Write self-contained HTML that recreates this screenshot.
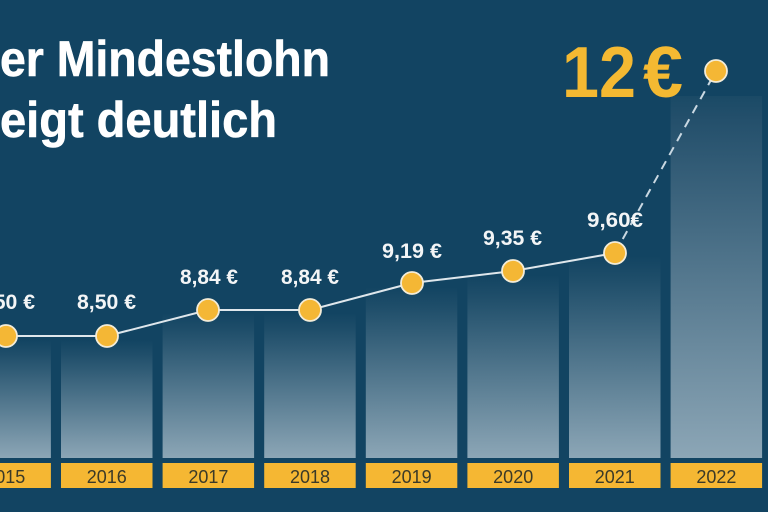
<!DOCTYPE html>
<html><head><meta charset="utf-8"><style>
html,body{margin:0;padding:0;background:#124462;}
svg{display:block;}
</style></head><body>
<svg width="768" height="512" viewBox="0 0 768 512" xmlns="http://www.w3.org/2000/svg">
<defs>
<linearGradient id="g" x1="0" y1="0" x2="0" y2="1">
<stop offset="0" stop-color="#124462"/>
<stop offset="0.12" stop-color="#1f4e6a"/>
<stop offset="1" stop-color="#8ca6b6"/>
</linearGradient>
<linearGradient id="g2" x1="0" y1="0" x2="0" y2="1">
<stop offset="0" stop-color="#1a4a66"/>
<stop offset="0.06" stop-color="#234f6b"/>
<stop offset="1" stop-color="#8ca6b6"/>
</linearGradient>
</defs>
<rect width="768" height="512" fill="#124462"/>
<!-- bars -->
<g>
<rect x="-40.6" y="340" width="91.5" height="118" fill="url(#g)"/>
<rect x="61" y="340" width="91.5" height="118" fill="url(#g)"/>
<rect x="162.6" y="313" width="91.5" height="145" fill="url(#g)"/>
<rect x="264.2" y="313" width="91.5" height="145" fill="url(#g)"/>
<rect x="365.8" y="287" width="91.5" height="171" fill="url(#g)"/>
<rect x="467.4" y="275" width="91.5" height="183" fill="url(#g)"/>
<rect x="569" y="256" width="91.5" height="202" fill="url(#g)"/>
<rect x="670.6" y="96" width="91.5" height="362" fill="url(#g2)"/>
</g>
<!-- year boxes -->
<g fill="#f5b733">
<rect x="-40.6" y="463" width="91.5" height="25"/>
<rect x="61" y="463" width="91.5" height="25"/>
<rect x="162.6" y="463" width="91.5" height="25"/>
<rect x="264.2" y="463" width="91.5" height="25"/>
<rect x="365.8" y="463" width="91.5" height="25"/>
<rect x="467.4" y="463" width="91.5" height="25"/>
<rect x="569" y="463" width="91.5" height="25"/>
<rect x="670.6" y="463" width="91.5" height="25"/>
</g>
<g font-family="Liberation Sans, sans-serif" font-size="18" fill="#3b3a28" text-anchor="middle">
<text x="5.2" y="483">2015</text>
<text x="106.8" y="483">2016</text>
<text x="208.4" y="483">2017</text>
<text x="310" y="483">2018</text>
<text x="411.6" y="483">2019</text>
<text x="513.2" y="483">2020</text>
<text x="614.8" y="483">2021</text>
<text x="716.4" y="483">2022</text>
</g>
<!-- line -->
<polyline points="6,336 107,336 208,310 310,310 412,283 513,271 615,253" fill="none" stroke="#dfe7ec" stroke-width="2"/>
<line x1="615" y1="253" x2="716" y2="71" stroke="#c9d8e2" stroke-width="2" stroke-dasharray="9,7"/>
<!-- dots -->
<g fill="#f4b735" stroke="#f3ecd8" stroke-width="1.8">
<circle cx="6" cy="336" r="11"/>
<circle cx="107" cy="336" r="11"/>
<circle cx="208" cy="310" r="11"/>
<circle cx="310" cy="310" r="11"/>
<circle cx="412" cy="283" r="11"/>
<circle cx="513" cy="271" r="11"/>
<circle cx="615" cy="253" r="11"/>
<circle cx="716" cy="71" r="11"/>
</g>
<!-- value labels -->
<g font-family="Liberation Sans, sans-serif" font-weight="bold" font-size="21" fill="#f3f5f6">
<text x="-24" y="309" textLength="59" lengthAdjust="spacingAndGlyphs">8,50 €</text>
<text x="77" y="309" textLength="59" lengthAdjust="spacingAndGlyphs">8,50 €</text>
<text x="180" y="284" textLength="58" lengthAdjust="spacingAndGlyphs">8,84 €</text>
<text x="281" y="284" textLength="58" lengthAdjust="spacingAndGlyphs">8,84 €</text>
<text x="382" y="258" textLength="60" lengthAdjust="spacingAndGlyphs">9,19 €</text>
<text x="483" y="245" textLength="59" lengthAdjust="spacingAndGlyphs">9,35 €</text>
<text x="587" y="227" textLength="56" lengthAdjust="spacingAndGlyphs">9,60€</text>
</g>
<text font-family="Liberation Sans, sans-serif" font-weight="bold" font-size="72" fill="#f4b932" y="97"><tspan x="562" textLength="74" lengthAdjust="spacingAndGlyphs">12</tspan> <tspan x="643" textLength="40" lengthAdjust="spacingAndGlyphs">€</tspan></text>
<!-- title -->
<g font-family="Liberation Sans, sans-serif" font-weight="bold" font-size="50" fill="#ffffff" stroke="#ffffff" stroke-width="0.6">
<text x="0" y="76" textLength="330" lengthAdjust="spacingAndGlyphs">er Mindestlohn</text>
<text x="0" y="137" textLength="277" lengthAdjust="spacingAndGlyphs">eigt deutlich</text>
</g>
</svg>
</body></html>
